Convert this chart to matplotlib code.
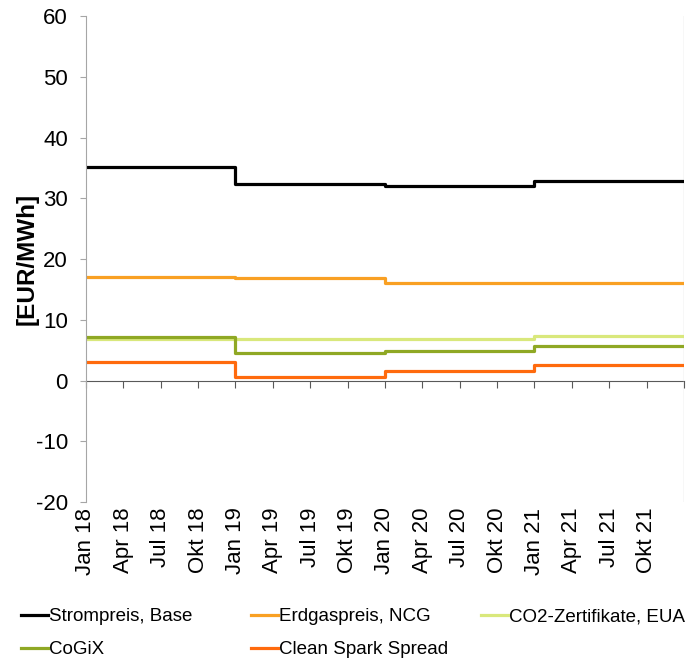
import numpy as np
import matplotlib
matplotlib.use("Agg")
import matplotlib.pyplot as plt

plt.rcParams['font.family'] = ['Liberation Sans', 'DejaVu Sans']
plt.rcParams['axes.unicode_minus'] = False

# Quartals-Beschriftung (Monatsachse Jan 18 .. Dez 21)
quartal_labels = ['Jan 18', 'Apr 18', 'Jul 18', 'Okt 18',
                  'Jan 19', 'Apr 19', 'Jul 19', 'Okt 19',
                  'Jan 20', 'Apr 20', 'Jul 20', 'Okt 20',
                  'Jan 21', 'Apr 21', 'Jul 21', 'Okt 21']
# Monat seit Jan 18, an dem jedes Jahresprodukt beginnt (+ Ende Dez 21)
jahr_start = [0, 12, 24, 36, 48]

# Jahreswerte 2018..2021 in EUR/MWh
strompreis = [35.2, 32.4, 32.0, 32.8]
erdgas = [17.1, 16.9, 16.1, 16.1]
co2 = [6.8, 6.8, 6.9, 7.3]
cogix = [7.1, 4.5, 4.9, 5.7]
spark = [3.1, 0.6, 1.6, 2.6]

serien = [
    ('Strompreis, Base', strompreis, '#000000'),
    ('Erdgaspreis, NCG', erdgas, '#f9a023'),
    ('CO2-Zertifikate, EUA', co2, '#d9e87c'),
    ('CoGiX', cogix, '#8fa824'),
    ('Clean Spark Spread', spark, '#ff6a0d'),
]

fig = plt.figure(figsize=(6.89, 6.59), dpi=100)
ax = fig.add_axes([0.1248, 0.2382, 0.8679, 0.7375])

linien = {}
for name, werte, farbe in serien:
    l, = ax.step(jahr_start, werte + [werte[-1]], where='post', color=farbe, lw=2.3, label=name)
    linien[name] = l

ax.set_xlim(0, 48)
ax.set_ylim(-20, 60)
ax.set_yticks(np.arange(-20, 61, 10))
ax.set_xticks(np.arange(0, 48, 3))
ax.set_xticklabels(quartal_labels, rotation=90)
ax.set_xticks(np.arange(0, 49, 3), minor=True)
ax.grid(axis='x', which='minor', color='#d9d9d9', lw=1)
ax.tick_params(axis='x', which='both', length=0, labelsize=16, pad=4)
ax.tick_params(axis='y', length=4.5, color='#a6a6a6', labelsize=16, pad=8.5)
for s in ['top', 'right', 'bottom']:
    ax.spines[s].set_visible(False)
ax.spines['left'].set_color('#a6a6a6')
ax.set_axisbelow(True)

# Achse bei 0 mit Teilstrichen
sec = ax.secondary_xaxis(0.25)
sec.set_xticks(np.arange(0, 49, 3))
sec.tick_params(axis='x', length=5, color='#595959', labelbottom=False, direction='out')
sec.spines['bottom'].set_color('#595959')

ax.set_ylabel('[EUR/MWh]', fontsize=17.5, fontweight='bold')
ax.yaxis.set_label_coords(-0.079, 0.5)

# Legende: drei Spalten wie im Original
spalten = [(['Strompreis, Base', 'CoGiX'], 0.030),
           (['Erdgaspreis, NCG', 'Clean Spark Spread'], 0.364),
           (['CO2-Zertifikate, EUA'], 0.698)]
for namen, x0 in spalten:
    fig.legend([linien[n] for n in namen], namen, loc='upper left',
               bbox_to_anchor=(x0, 0.077), frameon=False, fontsize=13.5,
               handlelength=1.45, handletextpad=0.05, labelspacing=0.85,
               borderpad=0, borderaxespad=0)

fig.savefig('out.png', dpi=100)
